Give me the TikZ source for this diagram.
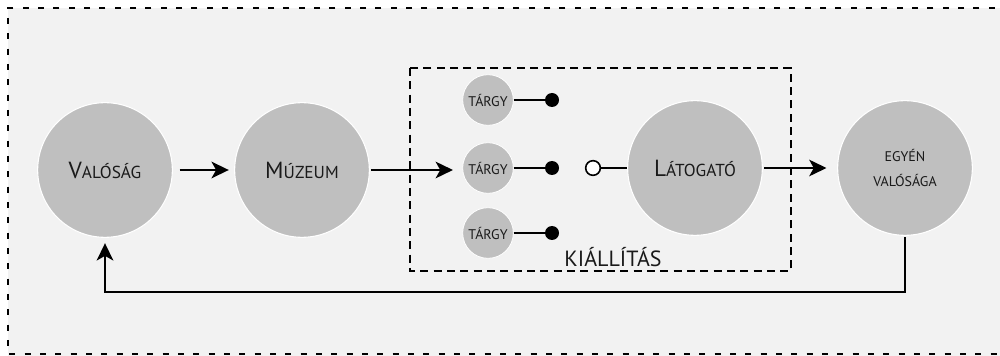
\documentclass[tikz,border=0pt]{standalone}
\usepackage{fontspec}
\setmainfont{PT Sans}
\usepackage{tikz}
\usetikzlibrary{arrows.meta}
\definecolor{bglight}{HTML}{F2F2F2}
\definecolor{discgray}{HTML}{BFBFBF}
\definecolor{ink}{HTML}{1A1A1A}
\newcommand\capsc[2]{{\fontsize{17.5}{20}\selectfont #1}{\fontsize{13}{15}\selectfont #2}}
\tikzset{
	bigdisc/.style={circle, fill=discgray, draw=white, line width=0.8pt, minimum size=101pt, inner sep=0pt, align=center, text=ink},
	targydisc/.style={circle, fill=discgray, draw=white, line width=0.6pt, minimum size=38pt, inner sep=0pt, text=ink, font=\fontsize{10.5}{12}\selectfont},
	plug/.style={circle, fill=black, minimum size=10.5pt, inner sep=0pt},
	socket/.style={circle, fill=white, draw=black, line width=1.2pt, minimum size=11pt, inner sep=0pt},
	arr/.style={-{Stealth[length=13pt,width=12.5pt,inset=3.5pt]}, line width=1.4pt},
	wire/.style={line width=1.4pt}
}

\begin{document}
\begin{tikzpicture}[x=0.75pt, y=-0.75pt]
\useasboundingbox (0,0) rectangle (1000,356);
\fill[white] (0,0) rectangle (1000,356);
\fill[bglight] (8,8) rectangle (1000,356);
\draw[line width=1.1pt, dash pattern=on 4.5pt off 7pt] (1010,8) -- (8,8) -- (8,354) -- (1010,354);

% kiallitas
\draw[line width=1.4pt, dash pattern=on 6pt off 4pt] (410,68) rectangle (791,271);
\node[text=ink, font=\fontsize{16.5}{18}\selectfont] (kiall) at (613,257) {KIÁLLÍTÁS};

\node[bigdisc] (val) at (105,170) {\capsc{V}{ALÓSÁG}};
\node[bigdisc] (muz) at (302,170) {\capsc{M}{ÚZEUM}};
\node[bigdisc] (lat) at (695,168) {\capsc{L}{ÁTOGATÓ}};
\node[bigdisc, font=\fontsize{10.5}{19}\selectfont] (egy) at (905,168) {EGYÉN\\VALÓSÁGA};

\foreach \i/\y in {1/100, 2/168, 3/233} {
	\node[targydisc] (t\i) at (488,\y) {TÁRGY};
	\node[plug] (p\i) at (552,\y) {};
	\draw[wire] (t\i) -- (p\i);
}
\node[socket] (sock) at (593,168) {};
\draw[wire] (sock) -- (lat);

\draw[arr, shorten <=5pt, shorten >=4pt] (val) -- (muz);
\draw[arr, shorten <=1pt, shorten >=7pt] (muz.east) -- (muz.east -| t2.west);
\draw[arr, shorten <=1pt, shorten >=8pt] (lat) -- (egy);
\draw[arr, shorten <=1pt, shorten >=4pt] (egy.south) -- ++(0,56) -| (val.south);
\end{tikzpicture}
\end{document}
